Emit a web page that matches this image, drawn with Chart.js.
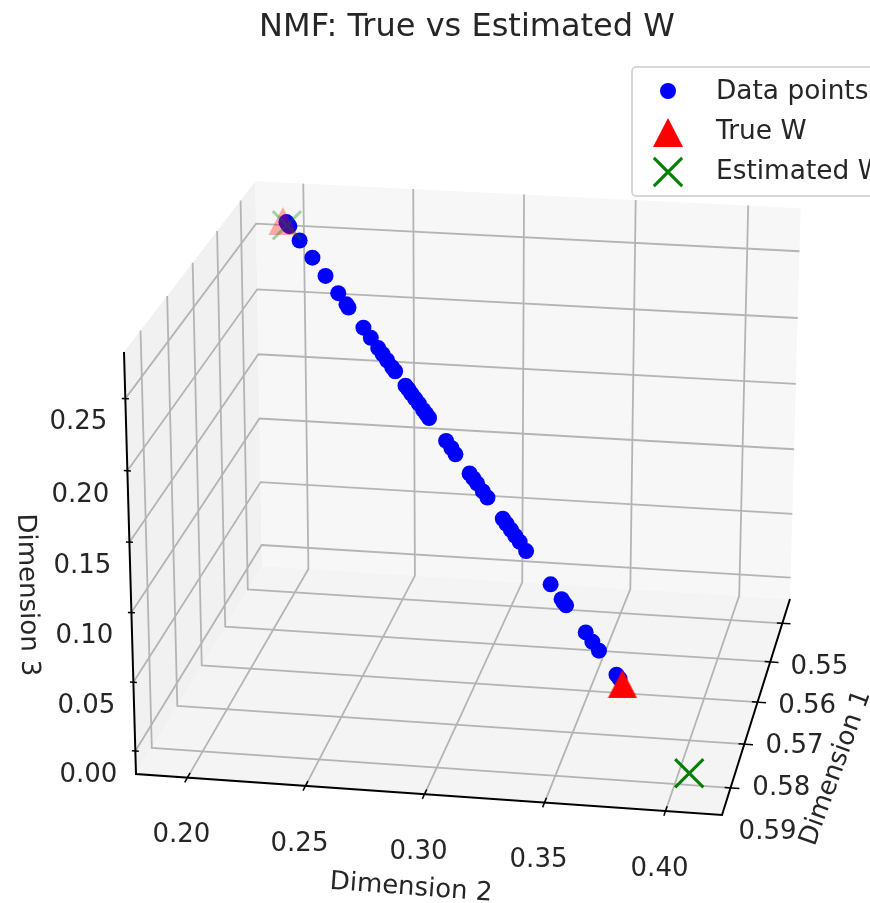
<!DOCTYPE html>
<html>
<head>
<meta charset="utf-8">
<title>NMF: True vs Estimated W</title>
<script src="https://cdn.jsdelivr.net/npm/chart.js@4/dist/chart.umd.min.js"></script>
<style>
  html, body { margin: 0; padding: 0; background: #fff; overflow: hidden; }
  canvas { display: block; filter: blur(0.5px); }
</style>
</head>
<body>
<canvas id="chart" width="870" height="903"></canvas>
<script>
// values
const dim1Values = [0.5460, 0.5462, 0.5464, 0.5477, 0.5492, 0.5509, 0.5524, 0.5534, 0.5537, 0.5555, 0.5564, 0.5573, 0.5578, 0.5584, 0.5590, 0.5593, 0.5606, 0.5609, 0.5613, 0.5617, 0.5621, 0.5627, 0.5630, 0.5634, 0.5653, 0.5659, 0.5665, 0.5681, 0.5685, 0.5689, 0.5696, 0.5701, 0.5719, 0.5723, 0.5728, 0.5733, 0.5738, 0.5746, 0.5773, 0.5785, 0.5788, 0.5790, 0.5812, 0.5820, 0.5827, 0.5846, 0.5849];
const dim2Values = [0.1946, 0.1954, 0.1963, 0.2022, 0.2094, 0.2169, 0.2240, 0.2286, 0.2298, 0.2381, 0.2422, 0.2463, 0.2487, 0.2512, 0.2540, 0.2556, 0.2613, 0.2629, 0.2645, 0.2665, 0.2685, 0.2709, 0.2725, 0.2741, 0.2832, 0.2860, 0.2883, 0.2958, 0.2978, 0.2997, 0.3028, 0.3052, 0.3133, 0.3152, 0.3175, 0.3198, 0.3221, 0.3255, 0.3381, 0.3437, 0.3448, 0.3460, 0.3560, 0.3594, 0.3627, 0.3715, 0.3730];
const dim3Values = [0.2582, 0.2572, 0.2562, 0.2489, 0.2401, 0.2310, 0.2223, 0.2167, 0.2152, 0.2052, 0.2002, 0.1952, 0.1922, 0.1893, 0.1858, 0.1838, 0.1769, 0.1750, 0.1730, 0.1706, 0.1681, 0.1652, 0.1632, 0.1613, 0.1502, 0.1468, 0.1439, 0.1348, 0.1324, 0.1301, 0.1263, 0.1234, 0.1136, 0.1112, 0.1084, 0.1056, 0.1028, 0.0986, 0.0833, 0.0765, 0.0751, 0.0737, 0.0615, 0.0574, 0.0534, 0.0426, 0.0408];

const trueW1 = [0.5462, 0.5854];
const trueW2 = [0.1932, 0.3746];
const trueW3 = [0.2594, 0.0387];

const estW1 = [0.5465, 0.5925];
const estW2 = [0.1953, 0.4074];
const estW3 = [0.2570, 0.0000];

const dim1Ticks = [0.55, 0.56, 0.57, 0.58, 0.59];
const dim2Ticks = [0.20, 0.25, 0.30, 0.35, 0.40];
const dim3Ticks = [0.00, 0.05, 0.10, 0.15, 0.20, 0.25];

// axis limits of the 3d box
const dim1Lim = [0.596, 0.5435];
const dim2Lim = [0.1781, 0.4232];
const dim3Lim = [-0.0168, 0.282];

// camera: where the box corners land on screen, plus the perspective terms
const corner0 = [136, 774];
const cornerU = [722, 815];
const cornerV = [262, 566];
const cornerW = [124, 352];
const perspU = -0.0198;
const perspV = 0.1124;
const perspW = -0.035;

function boxPoint(u, v, w) {
    const d = 1 + perspU * u + perspV * v + perspW * w;
    const nx = u * (1 + perspU) * (cornerU[0] - corner0[0]) + v * (1 + perspV) * (cornerV[0] - corner0[0]) + w * (1 + perspW) * (cornerW[0] - corner0[0]);
    const ny = u * (1 + perspU) * (cornerU[1] - corner0[1]) + v * (1 + perspV) * (cornerV[1] - corner0[1]) + w * (1 + perspW) * (cornerW[1] - corner0[1]);
    return { x: corner0[0] + nx / d, y: corner0[1] + ny / d };
}

function toU(d2) { return (d2 - dim2Lim[0]) / (dim2Lim[1] - dim2Lim[0]); }
function toV(d1) { return (d1 - dim1Lim[0]) / (dim1Lim[1] - dim1Lim[0]); }
function toW(d3) { return (d3 - dim3Lim[0]) / (dim3Lim[1] - dim3Lim[0]); }

function project(d1, d2, d3) {
    return boxPoint(toU(d2), toV(d1), toW(d3));
}

function projectAll(a1, a2, a3) {
    return a1.map((v, i) => project(v, a2[i], a3[i]));
}

function lineSet(points, color, width, order) {
    return {
        type: 'scatter', data: points, showLine: true, borderColor: color, borderWidth: width,
        pointRadius: 0, fill: false, order: order, clip: false
    };
}

const gridColor = '#b4b4b4';
const gridWidth = 1.8;
const gridSets = [];
dim2Ticks.forEach(t => {
    const u = toU(t);
    gridSets.push(lineSet([boxPoint(u, 0, 0), boxPoint(u, 1, 0), boxPoint(u, 1, 1)], gridColor, gridWidth, 10));
});
dim1Ticks.forEach(t => {
    const v = toV(t);
    gridSets.push(lineSet([boxPoint(0, v, 1), boxPoint(0, v, 0), boxPoint(1, v, 0)], gridColor, gridWidth, 10));
});
dim3Ticks.forEach(t => {
    const w = toW(t);
    gridSets.push(lineSet([boxPoint(0, 0, w), boxPoint(0, 1, w), boxPoint(1, 1, w)], gridColor, gridWidth, 10));
});

// axis edges and tick marks
const axisSets = [
    lineSet([boxPoint(0, 0, 1), boxPoint(0, 0, 0), boxPoint(1, 0, 0), boxPoint(1, 1, 0)], '#000', 2, 9)
];
dim2Ticks.forEach(t => {
    const u = toU(t);
    axisSets.push(lineSet([boxPoint(u, -0.02, 0), boxPoint(u, 0.02, 0)], '#000', 1.5, 9));
});
dim1Ticks.forEach(t => {
    const v = toV(t);
    axisSets.push(lineSet([boxPoint(0.99, v, 0), boxPoint(1.015, v, 0)], '#000', 1.5, 9));
});
dim3Ticks.forEach(t => {
    const w = toW(t);
    axisSets.push(lineSet([boxPoint(-0.006, 0, w), boxPoint(0.006, 0, w)], '#000', 1.5, 9));
});

function triangleMark(color) {
    const c = document.createElement('canvas');
    c.width = 30;
    c.height = 30;
    const g = c.getContext('2d');
    g.fillStyle = color;
    g.beginPath();
    g.moveTo(15, 1);
    g.lineTo(29.5, 29);
    g.lineTo(0.5, 29);
    g.closePath();
    g.fill();
    return c;
}
const triSolid = triangleMark('rgb(255,0,0)');
const triFaded = triangleMark('rgba(255,0,0,0.32)');

const font = '"DejaVu Sans"';
const textColor = '#262626';

function fillPoly(ctx, chart, pts, color) {
    const sx = chart.scales.x, sy = chart.scales.y;
    ctx.fillStyle = color;
    ctx.beginPath();
    pts.forEach((p, i) => {
        const px = sx.getPixelForValue(p.x), py = sy.getPixelForValue(p.y);
        if (i === 0) ctx.moveTo(px, py); else ctx.lineTo(px, py);
    });
    ctx.closePath();
    ctx.fill();
}

function drawText(ctx, text, x, y, size, angle) {
    ctx.save();
    ctx.translate(x, y);
    ctx.rotate((angle || 0) * Math.PI / 180);
    ctx.font = size + 'px ' + font;
    ctx.fillStyle = textColor;
    ctx.textAlign = 'center';
    ctx.textBaseline = 'middle';
    ctx.fillText(text, 0, 0);
    ctx.restore();
}

// the three panes of the box go under everything else
const panesPlugin = {
    id: 'panes',
    beforeDatasetsDraw(chart) {
        const ctx = chart.ctx;
        ctx.save();
        fillPoly(ctx, chart, [boxPoint(0, 0, 0), boxPoint(1, 0, 0), boxPoint(1, 1, 0), boxPoint(0, 1, 0)], '#f4f4f4');
        fillPoly(ctx, chart, [boxPoint(0, 0, 0), boxPoint(0, 1, 0), boxPoint(0, 1, 1), boxPoint(0, 0, 1)], '#f1f1f1');
        fillPoly(ctx, chart, [boxPoint(0, 1, 0), boxPoint(1, 1, 0), boxPoint(1, 1, 1), boxPoint(0, 1, 1)], '#f7f7f7');
        ctx.restore();
    }
};

// tick labels, axis titles and the legend box
const labelsPlugin = {
    id: 'labels3d',
    afterDatasetsDraw(chart) {
        const ctx = chart.ctx;
        const sx = chart.scales.x, sy = chart.scales.y;
        const tickSize = 26;

        dim2Ticks.forEach(t => {
            const p = boxPoint(toU(t), 0, 0);
            drawText(ctx, t.toFixed(2), sx.getPixelForValue(p.x) - 6, sy.getPixelForValue(p.y) + 58, tickSize);
        });
        dim1Ticks.forEach(t => {
            const p = boxPoint(1, toV(t), 0);
            drawText(ctx, t.toFixed(2), sx.getPixelForValue(p.x) + 37, sy.getPixelForValue(p.y) + 44, tickSize);
        });
        dim3Ticks.forEach(t => {
            const p = boxPoint(0, 0, toW(t));
            drawText(ctx, t.toFixed(2), sx.getPixelForValue(p.x) - 47, sy.getPixelForValue(p.y) + 24, tickSize);
        });

        drawText(ctx, 'Dimension 1', 836, 768, 26, -70);
        drawText(ctx, 'Dimension 2', 411, 888, 26, 4.2);
        drawText(ctx, 'Dimension 3', 27, 595, 26, 88.5);
        drawText(ctx, 'NMF: True vs Estimated W', 467, 28, 32);

        // legend runs off the right edge of the figure, as in the original
        ctx.save();
        ctx.fillStyle = 'rgba(255,255,255,0.8)';
        ctx.strokeStyle = '#cccccc';
        ctx.lineWidth = 1.5;
        ctx.beginPath();
        ctx.roundRect(632, 67, 260, 129, 4);
        ctx.fill();
        ctx.stroke();

        ctx.fillStyle = 'rgb(0,0,255)';
        ctx.beginPath();
        ctx.arc(668, 91, 8, 0, Math.PI * 2);
        ctx.fill();

        ctx.fillStyle = 'rgb(255,0,0)';
        ctx.beginPath();
        ctx.moveTo(668, 118);
        ctx.lineTo(683, 147);
        ctx.lineTo(653, 147);
        ctx.closePath();
        ctx.fill();

        ctx.strokeStyle = 'rgb(0,128,0)';
        ctx.lineWidth = 3;
        Chart.helpers.drawPoint(ctx, { pointStyle: 'crossRot', radius: 20, borderWidth: 3 }, 668, 172);
        ctx.restore();

        ctx.save();
        ctx.font = '26.4px ' + font;
        ctx.fillStyle = textColor;
        ctx.textAlign = 'left';
        ctx.textBaseline = 'middle';
        ['Data points', 'True W', 'Estimated W'].forEach((s, i) => ctx.fillText(s, 716, 92 + i * 40));
        ctx.restore();
    }
};

new Chart(document.getElementById('chart').getContext('2d'), {
    type: 'scatter',
    data: {
        datasets: [
            ...gridSets,
            ...axisSets,
            {
                label: 'Data points',
                data: projectAll(dim1Values, dim2Values, dim3Values),
                backgroundColor: 'rgb(0,0,255)', borderWidth: 0, pointRadius: 8, order: 3, clip: false
            },
            {
                label: 'True W',
                data: projectAll(trueW1, trueW2, trueW3),
                pointStyle: [triFaded, triSolid], pointRadius: 15, order: 2, clip: false
            },
            {
                label: 'Estimated W',
                data: projectAll(estW1, estW2, estW3),
                pointStyle: 'crossRot', pointRadius: 20, borderWidth: 3,
                borderColor: ['rgba(0,128,0,0.32)', 'rgb(0,128,0)'],
                backgroundColor: 'transparent', order: 1, clip: false
            }
        ]
    },
    options: {
        responsive: false,
        animation: false,
        events: [],
        layout: { padding: 0, autoPadding: false },
        plugins: { legend: { display: false }, tooltip: { enabled: false }, title: { display: false } },
        scales: {
            x: { type: 'linear', min: 0, max: 870, display: false },
            y: { type: 'linear', min: 0, max: 903, reverse: true, display: false }
        }
    },
    plugins: [panesPlugin, labelsPlugin]
});
</script>
</body>
</html>
